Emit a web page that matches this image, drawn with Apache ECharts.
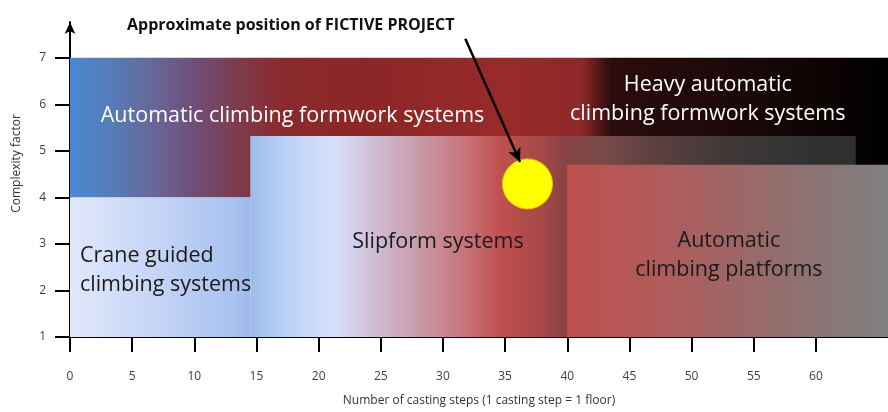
<!DOCTYPE html>
<html>
<head>
<meta charset="utf-8">
<script src="https://cdn.jsdelivr.net/npm/echarts@6/dist/echarts.min.js"></script>
<style>
  html, body { margin: 0; padding: 0; background: #fff; }
  #chart { width: 888px; height: 412px; }
</style>
</head>
<body>
<div id="chart"></div>
<script>
// axis ticks
const xTicks = [0, 5, 10, 15, 20, 25, 30, 35, 40, 45, 50, 55, 60]
const yTicks = [1, 2, 3, 4, 5, 6, 7]

// regions: [fromSteps, toSteps], [fromComplexity, toComplexity]
const regionNames = ['Automatic climbing formwork', 'Crane guided', 'Slipform', 'Automatic climbing platforms']
const regionSteps = [[0, 66], [0, 14.5], [14.5, 63.2], [40, 66]]
const regionComplexity = [[4, 7], [1, 4], [1, 5.32], [1, 4.7]]

// region labels
const labelTexts = [
  'Automatic climbing formwork systems',
  'Heavy automatic\nclimbing formwork systems',
  'Crane guided\nclimbing systems',
  'Slipform systems',
  'Automatic\nclimbing platforms'
]
const labelSteps = [17.9, 51.3, 0.8, 29.6, 53.0]
const labelComplexity = [5.75, 6.1, 2.44, 3.04, 2.75]

// fictive project
const projectSteps = 36.8
const projectComplexity = 4.29
const arrowFrom = [31.8, 7.41]
const arrowTo = [36.2, 4.76]

function grad(stops) {
  return new echarts.graphic.LinearGradient(0, 0, 1, 0,
    stops.map(s => ({ offset: s[0], color: s[1] })))
}

const regionFills = [
  grad([[0, '#4a88d4'], [0.05, '#567cb8'], [0.1, '#66689a'], [0.147, '#6e507a'], [0.208, '#7e3a4c'],
        [0.257, '#8a2a2e'], [0.355, '#8c2626'], [0.53, '#982a2a'], [0.623, '#8e2828'], [0.642, '#5a1a1a'],
        [0.66, '#2a0c0c'], [0.83, '#1a0808'], [0.966, '#050101'], [1, '#000000']]),
  grad([[0, '#e0e8fa'], [0.5, '#c4d4f6'], [0.9, '#a8c2f0'], [1, '#9ebaee']]),
  grad([[0, '#9cbce8'], [0.05, '#b8cff4'], [0.14, '#d8e0fc'], [0.2, '#d0c0d8'], [0.28, '#c89aa8'],
        [0.36, '#c87078'], [0.41, '#c0524f'], [0.48, '#a84848'], [0.52, '#8a4242'], [0.58, '#7a4a4a'],
        [0.66, '#5e4040'], [0.78, '#423838'], [0.88, '#343434'], [1, '#2e2e2e']]),
  grad([[0, '#c0504d'], [0.4, '#a86060'], [0.7, '#907070'], [1, '#808080']])
]
const labelColors = ['#ffffff', '#ffffff', '#1a1a1a', '#1a1a1a', '#1a1a1a']
const labelAlign = ['center', 'center', 'left', 'center', 'center']

const chart = echarts.init(document.getElementById('chart'))

chart.setOption({
  animation: false,
  title: {
    text: 'Approximate position of FICTIVE PROJECT',
    left: 122, top: 12,
    textStyle: { fontFamily: 'Open Sans', fontSize: 16, fontWeight: 'bold', color: '#111' }
  },
  grid: { left: 70, right: 0, top: 22, bottom: 73 },
  xAxis: {
    type: 'value',
    min: 0, max: 65.8,
    name: 'Number of casting steps (1 casting step = 1 floor)',
    nameLocation: 'middle',
    nameGap: 58,
    nameTextStyle: { fontFamily: 'Open Sans', fontSize: 12, color: '#333' },
    axisLine: { onZero: false, lineStyle: { color: '#000', width: 2 } },
    axisTick: { show: true, length: 15, customValues: xTicks, lineStyle: { color: '#000', width: 2 } },
    axisLabel: { customValues: xTicks, margin: 34, fontFamily: 'Open Sans', fontSize: 12, color: '#404040' },
    splitLine: { show: false }
  },
  yAxis: {
    type: 'value',
    min: 1, max: 7.77,
    name: 'Complexity factor',
    nameLocation: 'middle',
    nameGap: 47,
    nameTextStyle: { fontFamily: 'Open Sans', fontSize: 12, color: '#333', padding: [0, 0, 0, 32] },
    axisLine: { onZero: false, symbol: ['none', 'arrow'], symbolSize: [8, 12], lineStyle: { color: '#000', width: 2 } },
    axisTick: { show: true, length: 15, customValues: yTicks, lineStyle: { color: '#000', width: 2 } },
    axisLabel: { customValues: yTicks, margin: 24, fontFamily: 'Open Sans', fontSize: 12, color: '#404040' },
    splitLine: { show: false }
  },
  series: [
    {
      type: 'custom',
      name: 'regions',
      z: 1,
      data: regionNames.map((n, i) => [regionSteps[i][0], regionSteps[i][1], regionComplexity[i][0], regionComplexity[i][1]]),
      renderItem(params, api) {
        const p0 = api.coord([api.value(0), api.value(3)])
        const p1 = api.coord([api.value(1), api.value(2)])
        return {
          type: 'rect',
          shape: { x: p0[0], y: p0[1], width: p1[0] - p0[0], height: p1[1] - p0[1] },
          style: { fill: regionFills[params.dataIndex] }
        }
      }
    },
    {
      type: 'custom',
      name: 'labels',
      z: 3,
      data: labelTexts.map((t, i) => [labelSteps[i], labelComplexity[i]]),
      renderItem(params, api) {
        const p = api.coord([api.value(0), api.value(1)])
        const i = params.dataIndex
        return {
          type: 'text',
          x: p[0], y: p[1],
          style: {
            text: labelTexts[i],
            fill: labelColors[i],
            font: '21.5px "Open Sans"',
            align: labelAlign[i],
            verticalAlign: 'middle',
            lineHeight: 29
          }
        }
      }
    },
    {
      type: 'scatter',
      name: 'FICTIVE PROJECT',
      z: 4,
      symbolSize: 50,
      itemStyle: { color: '#ffff00', opacity: 1, borderColor: '#e6cc00', borderWidth: 1 },
      data: [[projectSteps, projectComplexity]],
      markLine: {
        silent: true,
        symbol: ['none', 'arrow'],
        symbolSize: [10, 14],
        label: { show: false },
        lineStyle: { color: '#000', width: 2.5, type: 'solid' },
        data: [[{ coord: arrowFrom }, { coord: arrowTo }]]
      }
    }
  ]
})
</script>
</body>
</html>
